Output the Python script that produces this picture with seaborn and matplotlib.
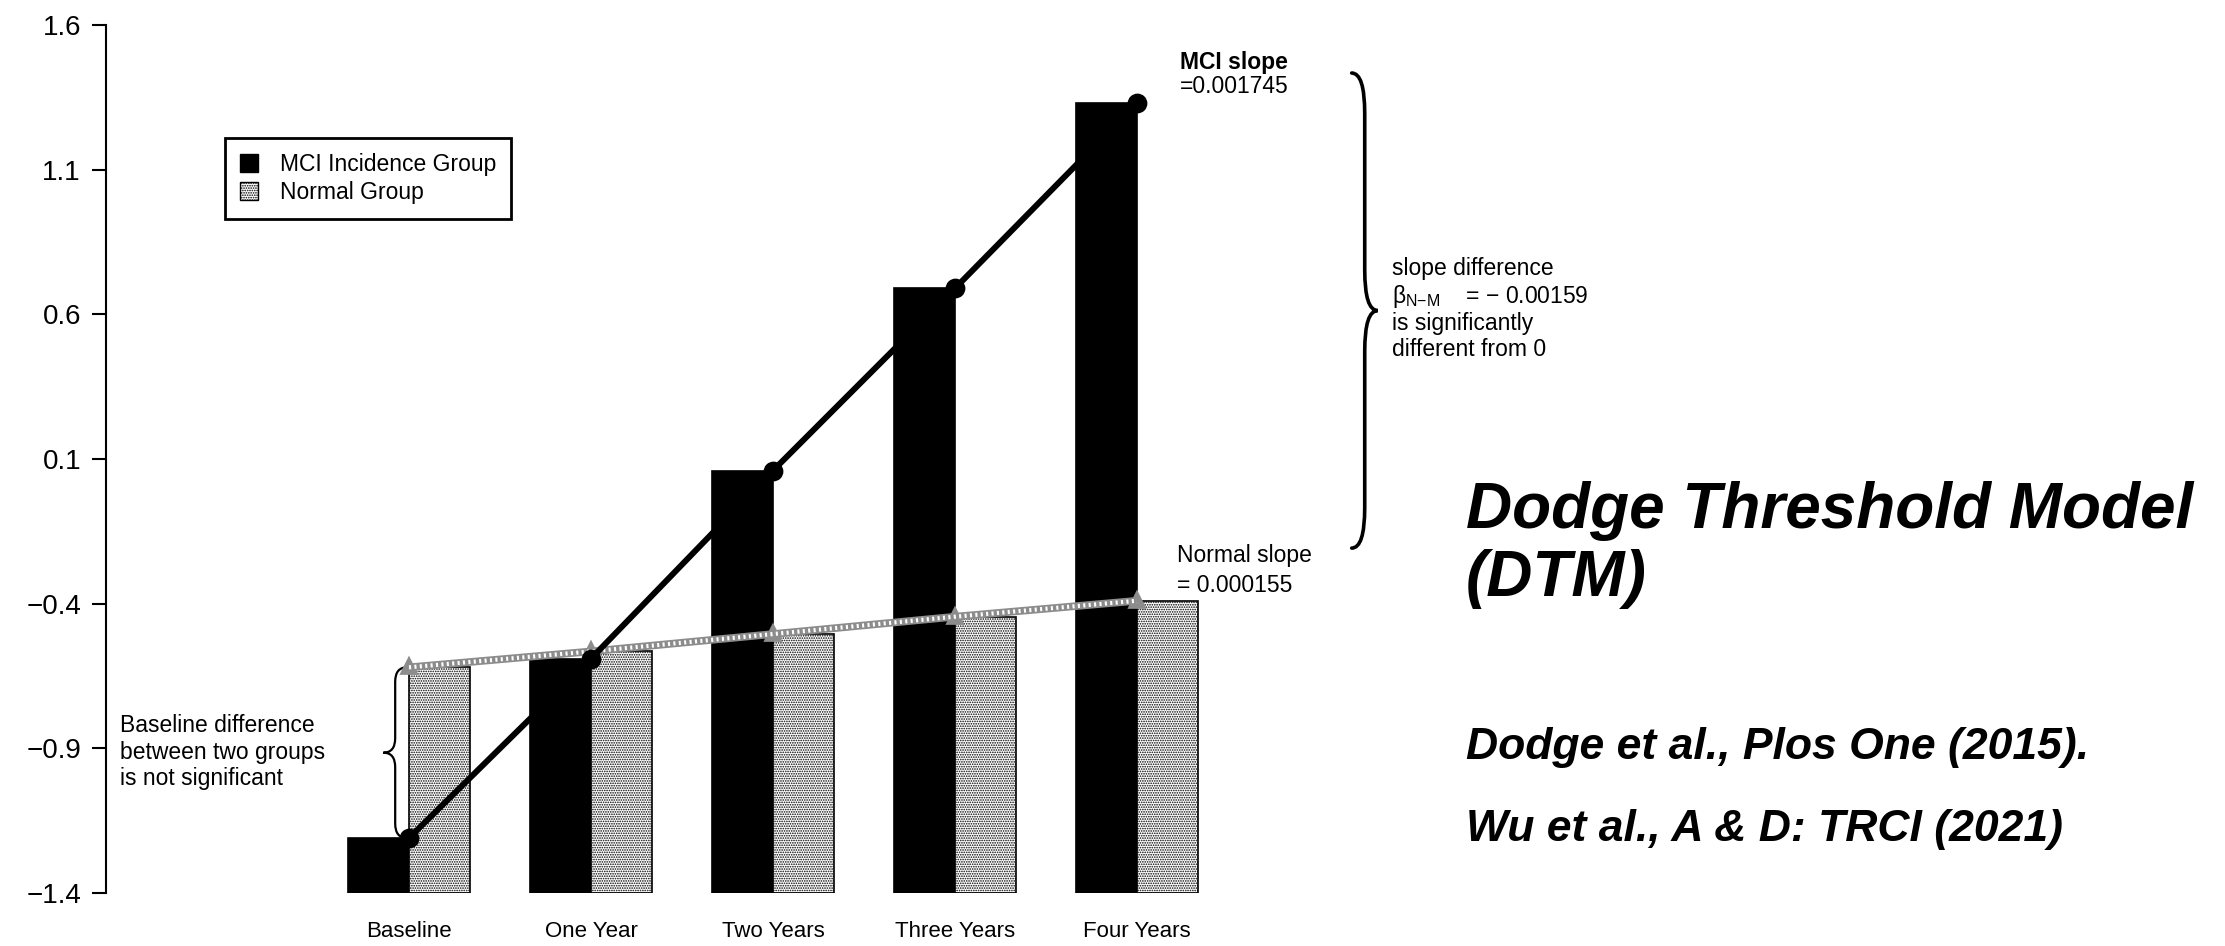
import matplotlib
matplotlib.use("Agg")
import matplotlib.pyplot as plt
from matplotlib import font_manager as fm
from matplotlib.patches import Patch, PathPatch
from matplotlib.path import Path
import numpy as np
import pandas as pd
import seaborn as sns

# ---- data -------------------------------------------------------------
categories = ["Baseline", "One Year", "Two Years", "Three Years", "Four Years"]
groups = ["MCI Incidence Group", "Normal Group"]
mci_values = [-1.21, -0.59, 0.06, 0.69, 1.33]
normal_values = [-0.62, -0.565, -0.505, -0.445, -0.39]
y_ticks = [1.6, 1.1, 0.6, 0.1, -0.4, -0.9, -1.4]

Y_FLOOR, Y_TOP = -1.4, 1.6
MINUS = "\u2212"

# ---- style ------------------------------------------------------------
sns.set_style("white")
available = {f.name for f in fm.fontManager.ttflist}
BASE_FONT = "Liberation Sans" if "Liberation Sans" in available else "DejaVu Sans"
NARROW_FONT = "Liberation Sans Narrow" if "Liberation Sans Narrow" in available else BASE_FONT
plt.rcParams["font.family"] = [BASE_FONT, "DejaVu Sans"]
plt.rcParams["mathtext.fontset"] = "custom"
plt.rcParams["mathtext.rm"] = BASE_FONT
plt.rcParams["mathtext.it"] = BASE_FONT + ":italic"
plt.rcParams["mathtext.bf"] = BASE_FONT + ":bold"
plt.rcParams["hatch.linewidth"] = 0.8
plt.rcParams["hatch.color"] = "black"
for key in ("text.color", "axes.labelcolor", "xtick.color", "ytick.color", "axes.edgecolor"):
    plt.rcParams[key] = "black"

fig = plt.figure(figsize=(22.25, 9.46), dpi=100)
ax = fig.add_axes([106 / 2225, 1 - 893 / 946, (1460 - 106) / 2225, (893 - 25) / 946])

df = pd.DataFrame({
    "time": categories * 2,
    "group": [groups[0]] * len(categories) + [groups[1]] * len(categories),
    "value": mci_values + normal_values,
})
df["height"] = df["value"] - Y_FLOOR

palette = {groups[0]: "black", groups[1]: "white"}
NORMAL_HATCH = "......."

# bars rise from the bottom of the value axis
sns.barplot(data=df, x="time", y="height", hue="group", order=categories,
            hue_order=groups, palette=palette, saturation=1, width=0.67,
            errorbar=None, legend=False, bottom=Y_FLOOR,
            edgecolor="black", linewidth=1.2, ax=ax)
for bar in ax.containers[1]:
    bar.set_hatch(NORMAL_HATCH)

# fitted trajectories through the group means
sns.pointplot(x=categories, y=normal_values, order=categories, color="#8c8c8c",
              errorbar=None, marker="^", markersize=7, markerfacecolor="white",
              markeredgecolor="#8c8c8c", linewidth=5.5, ax=ax, zorder=4)
sns.pointplot(x=categories, y=normal_values, order=categories, color="white",
              errorbar=None, marker="", linestyle=(0, (0.5, 0.8)), linewidth=3,
              ax=ax, zorder=4.1)
sns.pointplot(x=categories, y=mci_values, order=categories, color="black",
              errorbar=None, marker="o", markersize=11, linewidth=4.3,
              ax=ax, zorder=5)

# ---- axes -------------------------------------------------------------
ax.set_xlim(-1.665, 5.775)
ax.set_ylim(Y_FLOOR, Y_TOP)
ax.set_xlabel("")
ax.set_ylabel("")
ax.set_yticks(y_ticks)
ax.set_yticklabels([f"{v:.1f}".replace("-", MINUS) for v in y_ticks], fontsize=20)
ax.tick_params(axis="y", direction="out", length=10, width=1.5, pad=8, left=True)
ax.tick_params(axis="x", length=0, pad=20)
for lab in ax.get_xticklabels():
    lab.set_fontfamily(NARROW_FONT)
    lab.set_fontsize(16)
for side in ("top", "right", "bottom"):
    ax.spines[side].set_visible(False)
ax.spines["left"].set_bounds(Y_FLOOR, Y_TOP)
ax.spines["left"].set_linewidth(1.5)
ax.grid(False)

# ---- legend -----------------------------------------------------------
handles = [Patch(facecolor="black", edgecolor="black"),
           Patch(facecolor="white", edgecolor="black", hatch=NORMAL_HATCH)]
leg = ax.legend(handles, groups, loc="upper left",
                bbox_to_anchor=(225 / 2225, 1 - 138 / 946),
                bbox_transform=fig.transFigure, borderaxespad=0,
                frameon=True, fancybox=False, framealpha=1, edgecolor="black",
                fontsize=16.5, handlelength=0.8, handleheight=0.8,
                handletextpad=0.95, labelspacing=0.22, borderpad=0.65)
leg.get_frame().set_linewidth(2)


# ---- annotations ------------------------------------------------------
def curly_brace(x_end, y_lo, y_hi, depth, curl, **kw):
    """Vertical curly brace; ends at x_end, tip at x_end + depth."""
    xs = x_end + depth / 2
    xt = x_end + depth
    ym = (y_lo + y_hi) / 2
    verts = [(x_end, y_hi), (xs, y_hi), (xs, y_hi - curl), (xs, ym + curl),
             (xs, ym), (xt, ym), (xs, ym), (xs, ym - curl), (xs, y_lo + curl),
             (xs, y_lo), (x_end, y_lo)]
    codes = [Path.MOVETO, Path.CURVE3, Path.CURVE3, Path.LINETO,
             Path.CURVE3, Path.CURVE3, Path.CURVE3, Path.CURVE3, Path.LINETO,
             Path.CURVE3, Path.CURVE3]
    ax.add_patch(PathPatch(Path(verts, codes), fill=False, clip_on=False,
                           capstyle="round", **kw))


ANN = 16.5
ax.text(4.236, 1.472, "MCI slope", fontsize=ANN, fontweight="bold", va="center")
ax.text(4.236, 1.386, "=0.001745", fontsize=ANN, va="center")
ax.text(4.22, -0.232, "Normal slope", fontsize=ANN, va="center")
ax.text(4.22, -0.336, "= 0.000155", fontsize=ANN, va="center")

curly_brace(5.18, -0.208, 1.434, 0.143, 0.14, lw=2.6, edgecolor="black")
ax.text(5.40, 0.760, "slope difference", fontsize=ANN, va="center")
ax.text(5.40, 0.660, r"$\mathrm{\beta}_{\mathrm{N{-}M}}$    = " + MINUS + " 0.00159",
        fontsize=ANN, va="center")
ax.text(5.40, 0.570, "is significantly", fontsize=ANN, va="center")
ax.text(5.40, 0.477, "different from 0", fontsize=ANN, va="center")

curly_brace(-0.011, mci_values[0], normal_values[0], -0.13, 0.05,
            lw=1.6, edgecolor="black")
ax.text(-1.588, -0.913, "Baseline difference\nbetween two groups\nis not significant",
        fontsize=ANN, va="center", ha="left", linespacing=1.2)

# ---- side panel text --------------------------------------------------
side = dict(fontweight="bold", fontstyle="italic", va="baseline", ha="left")
fig.text(1466 / 2225, 1 - 528 / 946, "Dodge Threshold Model", fontsize=46, **side)
fig.text(1466 / 2225, 1 - 596 / 946, "(DTM)", fontsize=46, **side)
fig.text(1466 / 2225, 1 - 759 / 946, "Dodge et al., Plos One (2015).", fontsize=32, **side)
fig.text(1466 / 2225, 1 - 841 / 946, "Wu et al., A & D: TRCI (2021)", fontsize=32, **side)

fig.savefig("out.png", dpi=100, facecolor="white")
